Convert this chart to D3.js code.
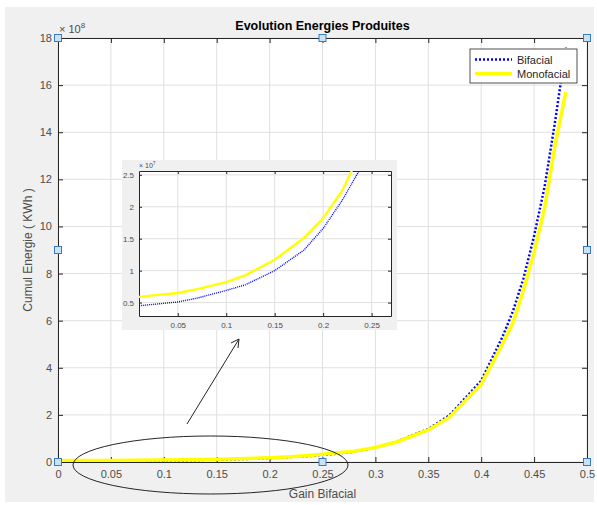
<!DOCTYPE html>
<html>
<head>
<meta charset="utf-8">
<script src="https://cdn.jsdelivr.net/npm/d3@7"></script>
<style>
  body { margin: 0; background: #fff; }
  text { font-family: "Liberation Sans", Arial, sans-serif; }
</style>
</head>
<body>
<svg></svg>
<script>
// gain bifacial (x) and cumulative energy (x 10^8 kWh)
const gain = [0, 0.01, 0.03, 0.05, 0.07, 0.10, 0.12, 0.15, 0.18, 0.20, 0.22, 0.24, 0.26, 0.28,
  0.30, 0.32, 0.35, 0.37, 0.40, 0.42, 0.43, 0.44, 0.45, 0.46, 0.47, 0.48];
const bifacial = [0.043, 0.045, 0.048, 0.051, 0.057, 0.069, 0.078, 0.100, 0.132, 0.166, 0.211, 0.264, 0.34, 0.44,
  0.61, 0.87, 1.40, 1.98, 3.45, 5.3, 6.4, 7.8, 9.6, 11.7, 14.5, 17.6];
const monofacial = [0.057, 0.059, 0.062, 0.065, 0.071, 0.082, 0.093, 0.117, 0.151, 0.182, 0.226, 0.29, 0.37, 0.46,
  0.62, 0.85, 1.36, 1.90, 3.30, 5.0, 5.9, 7.3, 8.9, 10.8, 13.5, 15.7];

const xTicks = [0, 0.05, 0.1, 0.15, 0.2, 0.25, 0.3, 0.35, 0.4, 0.45, 0.5];
const yTicks = [0, 2, 4, 6, 8, 10, 12, 14, 16, 18];
const insetXTicks = [0.05, 0.1, 0.15, 0.2, 0.25];
const insetYTicks = [0.5, 1, 1.5, 2, 2.5]; // x 10^7
const seriesNames = ['Bifacial', 'Monofacial'];

const svg = d3.select('svg')
  .attr('width', 597)
  .attr('height', 505);

const fmt = d3.format('~g');
const gridColor = '#e0e0e0',
  axisColor = '#262626',
  labelColor = '#4d4d4d';

svg.append('rect')
  .attr('x', 5).attr('y', 7)
  .attr('width', 589).attr('height', 495)
  .attr('fill', '#f0f0f0');

const m = { left: 58, top: 38, right: 587, bottom: 462 };

const x = d3.scaleLinear().domain([0, 0.5]).range([m.left, m.right]);
const y = d3.scaleLinear().domain([0, 18]).range([m.bottom, m.top]);

const pts = vals => gain.map((g, i) => [g, vals[i]]);

function drawAxes(g, xs, ys, xt, yt, opt) {
  const [x0, x1] = xs.range(), [y0, y1] = ys.range();
  g.append('rect')
    .attr('x', x0).attr('y', y1)
    .attr('width', x1 - x0).attr('height', y0 - y1)
    .attr('fill', '#fff');

  // grid
  g.append('g').selectAll('line').data(xt).join('line')
    .attr('x1', d => xs(d)).attr('x2', d => xs(d))
    .attr('y1', y1).attr('y2', y0)
    .attr('stroke', gridColor);
  g.append('g').selectAll('line').data(yt).join('line')
    .attr('y1', d => ys(d)).attr('y2', d => ys(d))
    .attr('x1', x0).attr('x2', x1)
    .attr('stroke', gridColor);

  const style = a => {
    a.selectAll('.domain').attr('stroke', axisColor);
    a.selectAll('.tick line').attr('stroke', axisColor);
    a.selectAll('.tick text').attr('fill', labelColor)
      .style('font-size', opt.font + 'px')
      .style('font-family', '"Liberation Sans", Arial, sans-serif');
  };

  g.append('g').attr('transform', `translate(0,${y0})`)
    .call(d3.axisBottom(xs).tickValues(xt).tickFormat(opt.xf).tickSize(-opt.tick).tickSizeOuter(0).tickPadding(opt.xpad))
    .call(style);
  g.append('g').attr('transform', `translate(0,${y1})`)
    .call(d3.axisTop(xs).tickValues(xt).tickFormat('').tickSize(-opt.tick).tickSizeOuter(0))
    .call(style);
  g.append('g').attr('transform', `translate(${x0},0)`)
    .call(d3.axisLeft(ys).tickValues(yt).tickFormat(opt.yf).tickSize(-opt.tick).tickSizeOuter(0).tickPadding(opt.ypad))
    .call(style);
  g.append('g').attr('transform', `translate(${x1},0)`)
    .call(d3.axisRight(ys).tickValues(yt).tickFormat('').tickSize(-opt.tick).tickSizeOuter(0))
    .call(style);
}

const main = svg.append('g');
drawAxes(main, x, y, xTicks, yTicks, { tick: 5, font: 11, xpad: 8, ypad: 6, xf: fmt, yf: fmt });

svg.append('clipPath').attr('id', 'mainclip')
  .append('rect').attr('x', m.left).attr('y', m.top)
  .attr('width', m.right - m.left).attr('height', m.bottom - m.top);

const line = d3.line().x(d => x(d[0])).y(d => y(d[1]));

const plot = svg.append('g').attr('clip-path', 'url(#mainclip)');
plot.append('path').datum(pts(bifacial))
  .attr('d', line).attr('fill', 'none')
  .attr('stroke', '#0000ff').attr('stroke-width', 2.5)
  .attr('stroke-dasharray', '2,2');
plot.append('path').datum(pts(monofacial))
  .attr('d', line).attr('fill', 'none')
  .attr('stroke', '#ffff00').attr('stroke-width', 3.5);

// title & labels
svg.append('text')
  .attr('x', (m.left + m.right) / 2).attr('y', 30)
  .attr('text-anchor', 'middle')
  .style('font-size', '12.5px').style('font-weight', 'bold')
  .attr('fill', '#000')
  .text('Evolution Energies Produites');

const exp = svg.append('text')
  .attr('x', 59).attr('y', 33)
  .attr('fill', labelColor)
  .style('font-size', '11px');
exp.append('tspan').text('\u00d7 10');
exp.append('tspan').attr('dy', -5).style('font-size', '8px').text('8');

svg.append('text')
  .attr('transform', `translate(32,${(m.top + m.bottom) / 2}) rotate(-90)`)
  .attr('text-anchor', 'middle')
  .attr('fill', labelColor)
  .style('font-size', '12px')
  .text('Cumul Energie ( KWh )');

svg.append('text')
  .attr('x', (m.left + m.right) / 2).attr('y', 498)
  .attr('text-anchor', 'middle')
  .attr('fill', labelColor)
  .style('font-size', '12px')
  .text('Gain Bifacial');

// legend
const lg = svg.append('g').attr('transform', 'translate(470,49)');
lg.append('rect').attr('width', 107).attr('height', 34)
  .attr('fill', '#fff').attr('stroke', '#262626').attr('stroke-width', 0.8);
seriesNames.forEach((name, i) => {
  const ly = 10.5 + i * 14;
  lg.append('line').attr('x1', 5).attr('x2', 42).attr('y1', ly).attr('y2', ly)
    .attr('stroke', i === 0 ? '#0000ff' : '#ffff00')
    .attr('stroke-width', i === 0 ? 2.5 : 3)
    .attr('stroke-dasharray', i === 0 ? '2,2' : null);
  lg.append('text').attr('x', 47).attr('y', ly + 4)
    .attr('fill', '#262626')
    .style('font-size', '11px')
    .text(name);
});

// selection handles
const handles = [[0, 18], [0.25, 18], [0.5, 18], [0, 9], [0.5, 9], [0, 0], [0.25, 0], [0.5, 0]];
svg.append('g').selectAll('rect').data(handles).join('rect')
  .attr('x', d => x(d[0]) - 3.5).attr('y', d => y(d[1]) - 3.5)
  .attr('width', 7).attr('height', 7)
  .attr('fill', '#c9e1f4').attr('stroke', '#3a7cc0').attr('stroke-width', 1);

// inset
svg.append('rect')
  .attr('x', 122).attr('y', 160).attr('width', 275).attr('height', 170)
  .attr('fill', '#f0f0f0');

const ix = d3.scaleLinear().domain([0.01, 0.27]).range([139, 391]);
const iy = d3.scaleLinear().domain([0.29, 2.56]).range([316, 171]);

const inset = svg.append('g');
drawAxes(inset, ix, iy, insetXTicks, insetYTicks, { tick: 3, font: 8, xpad: 6, ypad: 5, xf: fmt, yf: fmt });

svg.append('clipPath').attr('id', 'insetclip')
  .append('rect').attr('x', 139).attr('y', 171).attr('width', 252).attr('height', 145);

const iline = d3.line().x(d => ix(d[0])).y(d => iy(d[1] * 10));
const ip = svg.append('g').attr('clip-path', 'url(#insetclip)');
ip.append('path').datum(pts(monofacial))
  .attr('d', iline).attr('fill', 'none')
  .attr('stroke', '#ffff00').attr('stroke-width', 2.4);
ip.append('path').datum(pts(bifacial))
  .attr('d', iline).attr('fill', 'none')
  .attr('stroke', '#0000ff').attr('stroke-width', 1.4)
  .attr('stroke-dasharray', '1,1');

const iexp = svg.append('text')
  .attr('x', 139).attr('y', 168)
  .attr('fill', labelColor)
  .style('font-size', '7px');
iexp.append('tspan').text('\u00d7 10');
iexp.append('tspan').attr('dy', -3).style('font-size', '5px').text('7');

// annotation: ellipse and arrow
svg.append('ellipse')
  .attr('cx', 210.5).attr('cy', 465).attr('rx', 137.5).attr('ry', 29)
  .attr('fill', 'none').attr('stroke', '#262626').attr('stroke-width', 1);

svg.append('line')
  .attr('x1', 187).attr('y1', 424).attr('x2', 239).attr('y2', 339)
  .attr('stroke', '#262626').attr('stroke-width', 1);
svg.append('path')
  .attr('d', 'M231,343 L239,339 L238,348')
  .attr('fill', 'none').attr('stroke', '#262626').attr('stroke-width', 1);
</script>
</body>
</html>
